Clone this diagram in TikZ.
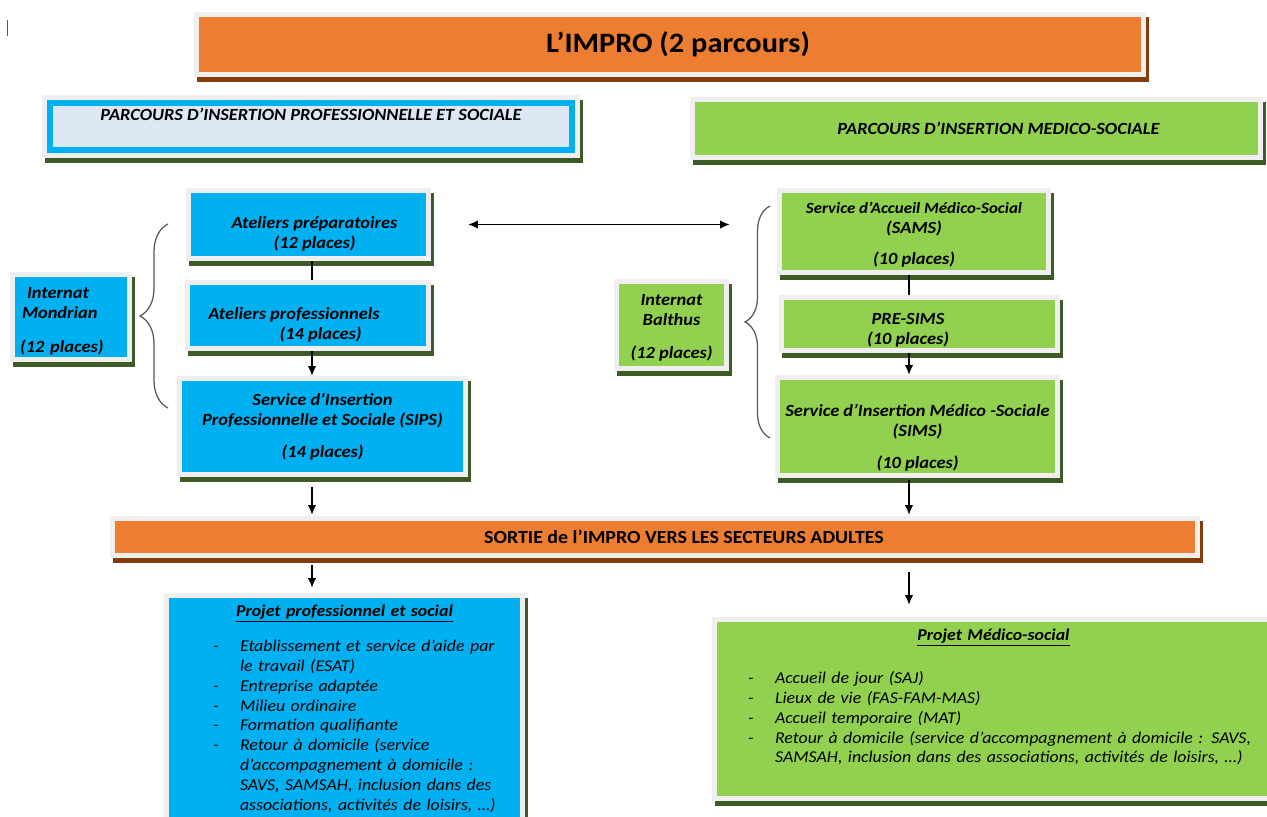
\documentclass[tikz,border=0pt]{standalone}
\usepackage{fontspec}
\setmainfont{Carlito}[FakeStretch=1.08]
\usetikzlibrary{arrows.meta,shadows,decorations.pathreplacing}

\definecolor{imporange}{HTML}{ED7D31}
\definecolor{impbrown}{HTML}{843C0C}
\definecolor{impcyan}{HTML}{00B0F0}
\definecolor{impgreen}{HTML}{92D050}
\definecolor{implight}{HTML}{DDE8F4}
\definecolor{framegray}{HTML}{EFEFEF}
\definecolor{shadowgreen}{HTML}{3D5A27}
\definecolor{bracegray}{HTML}{595959}

% ligne vide en tete de noeud pour descendre le texte
\newcommand{\topgap}[1]{\mbox{}\\[#1]}

\tikzset{
  wordbox/.style args={#1/#2}{outer sep=0pt,
    shadow xshift=0.06cm, shadow yshift=-0.1cm,
    general shadow={fill=#1, draw=#1, line width=#2},
    preaction={draw=framegray, line width=#2}},
  boxtext/.style={align=center, inner xsep=0.1cm, inner ysep=0pt,
    font=\fontsize{9.7}{11.3}\selectfont\bfseries\itshape},
  bluebox/.style={wordbox=shadowgreen/0.22cm, boxtext, fill=impcyan},
  greenbox/.style={wordbox=shadowgreen/0.22cm, boxtext, fill=impgreen},
  orangebar/.style={wordbox=impbrown/0.22cm, boxtext, fill=imporange,
    font=\fontsize{10.5}{12}\selectfont\bfseries},
  listbox/.style={wordbox=shadowgreen/0.22cm, align=left, anchor=north,
    inner xsep=0.2cm, inner ysep=0.14cm,
    font=\fontsize{9.4}{11.3}\selectfont\itshape},
  link/.style={line width=0.035cm},
  arr/.style={link, ->},
  curly/.style={decorate, decoration={brace, amplitude=#1}, draw=bracegray, line width=0.025cm},
}

\begin{document}
\begin{tikzpicture}[x=0.02cm, y=-0.02cm, >={Latex[length=0.2cm,width=0.17cm]}]
  \clip (0,0) rectangle (1267,817);
  \fill[white] (0,0) rectangle (1267,817);

  % curseur
  \draw[bracegray, line width=0.02cm] (7,20) -- (7,36);

  % titre et en-tetes
  \node[wordbox=impbrown/0.22cm, fill=imporange, minimum width=18.84cm, minimum height=1.1cm,
    font=\fontsize{16}{19}\selectfont\bfseries] (titre) at (670,44.5)
    {\hspace*{0.32cm}L’IMPRO (2 parcours)};
  \node[wordbox=shadowgreen/0.32cm, boxtext, fill=implight, draw=impcyan, line width=0.13cm,
    minimum width=10.44cm, minimum height=0.94cm] (hdrL) at (311,126.5)
    {PARCOURS D’INSERTION PROFESSIONNELLE ET SOCIALE\\[0.1cm]\mbox{}};
  \node[greenbox, minimum width=11.26cm, minimum height=1.06cm] (hdrR) at (976.5,128.5)
    {\hspace*{0.88cm}PARCOURS D’INSERTION MEDICO-SOCIALE};

  % parcours professionnel
  \node[bluebox, minimum width=4.7cm, minimum height=1.26cm] (atPrep) at (308.5,224.5)
    {\topgap{0.2cm}\hspace*{0.24cm}Ateliers préparatoires\\\hspace*{0.24cm}(12 places)};
  \node[bluebox, minimum width=4.72cm, minimum height=1.22cm] (atPro) at (308,315.5)
    {\topgap{0.22cm}Ateliers professionnels\hspace*{0.56cm}\mbox{}\\\hspace*{0.5cm}(14 places)};
  \node[bluebox, minimum width=5.62cm, minimum height=1.82cm] (sips) at (322.5,426.5)
    {Service d’Insertion\\Professionnelle et Sociale (SIPS)\\[0.24cm](14 places)};
  \node[bluebox, minimum width=2.24cm, minimum height=1.6cm, text width=2.04cm,
    align=left, inner xsep=0.05cm] (intM) at (71,317)
    {\topgap{0cm}\hspace*{0.14cm}Internat\\\hspace*{0.04cm}Mondrian\\[0.28cm](12 places)};

  % parcours medico-social
  \node[greenbox, minimum width=5.28cm, minimum height=1.54cm] (sams) at (914,231.5)
    {\topgap{-0.04cm}{\fontsize{8.9}{11.3}\selectfont Service d’Accueil Médico-Social}\\(SAMS)\\[0.24cm](10 places)};
  \node[greenbox, minimum width=5.42cm, minimum height=0.96cm] (presims) at (919.5,324)
    {\topgap{0.06cm}PRE-SIMS\hspace*{0.46cm}\mbox{}\\(10 places)\hspace*{0.46cm}\mbox{}};
  \node[greenbox, minimum width=5.5cm, minimum height=1.86cm] (sims) at (917.5,426.5)
    {\topgap{0.3cm}Service d’Insertion Médico -Sociale\\(SIMS)\\[0.26cm](10 places)};
  \node[greenbox, minimum width=2.1cm, minimum height=1.64cm] (intB) at (671.5,325)
    {\topgap{-0.06cm}Internat\\Balthus\\[0.26cm](12 places)};

  % sortie
  \node[orangebar, minimum width=21.6cm, minimum height=0.64cm] (sortie) at (655,537)
    {\hspace*{1.16cm}SORTIE de l’IMPRO VERS LES SECTEURS ADULTES};

  % projets
  \node[listbox, fill=impcyan, text width=6.62cm] (projPro) at (344.5,598)
    {\makebox[6.62cm]{\underline{\textbf{Projet professionnel et social}}}\\[0.26cm]
     \hspace*{0.68cm}\begin{tabular}[t]{@{}p{0.54cm}@{}l@{}}
     - & Etablissement et service d’aide par\\
       & le travail (ESAT)\\
     - & Entreprise adaptée\\
     - & Milieu ordinaire\\
     - & Formation qualifiante\\
     - & Retour à domicile (service\\
       & d’accompagnement à domicile :\\
       & SAVS, SAMSAH, inclusion dans des\\
       & associations, activités de loisirs, …)\\[0.6cm]
     \end{tabular}};
  \node[listbox, fill=impgreen, text width=10.66cm, minimum width=11.06cm,
    minimum height=3.42cm] (projMed) at (993.5,622)
    {\makebox[10.66cm]{\underline{\textbf{Projet Médico-social}}}\\[0.42cm]
     \hspace*{0.42cm}\begin{tabular}[t]{@{}p{0.54cm}@{}l@{}}
     - & Accueil de jour (SAJ)\\
     - & Lieux de vie (FAS-FAM-MAS)\\
     - & Accueil temporaire (MAT)\\
     - & Retour à domicile (service d’accompagnement à domicile : SAVS,\\
       & SAMSAH, inclusion dans des associations, activités de loisirs, …)\\[0.4cm]
     \end{tabular}};

  % liaisons
  \coordinate (colL) at (312,0);
  \coordinate (colR) at (909,0);
  \draw[link, shorten <=0.11cm, shorten >=0.11cm] (colL |- atPrep.south) -- (colL |- atPro.north);
  \draw[arr, shorten <=0.11cm, shorten >=0.1cm] (colL |- atPro.south) -- (colL |- sips.north);
  \draw[arr, shorten <=0.3cm, shorten >=0.12cm] (colL |- sips.south) -- (colL |- sortie.north);
  \draw[arr, shorten <=0.24cm, shorten >=0.2cm] (colL |- sortie.south) -- (colL |- projPro.north);
  \draw[link, shorten <=0.11cm, shorten >=0.1cm] (colR |- sams.south) -- (colR |- presims.north);
  \draw[arr, shorten <=0.1cm, shorten >=0.1cm] (colR |- presims.south) -- (colR |- sims.north);
  \draw[arr, shorten <=0.14cm, shorten >=0.12cm] (colR |- sims.south) -- (colR |- sortie.north);
  \draw[arr, shorten <=0.38cm, shorten >=0.34cm] (colR |- sortie.south) -- (colR |- projMed.north);
  \draw[link, <->, shorten <=0.84cm, shorten >=1.04cm] (atPrep.east) -- (atPrep.east -| sams.west);

  % accolades des internats
  \coordinate (braceLtop) at (168,224);
  \coordinate (braceLbot) at (168,408);
  \coordinate (braceRtop) at (770,206);
  \coordinate (braceRbot) at (770,438);
  \draw[curly=0.56cm] (braceLbot) -- (braceLtop);
  \draw[curly=0.5cm] (braceRbot) -- (braceRtop);
\end{tikzpicture}
\end{document}
